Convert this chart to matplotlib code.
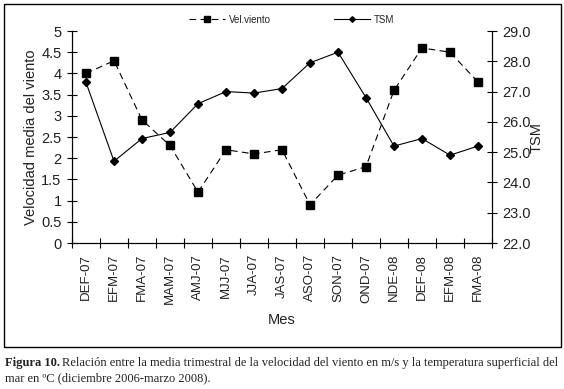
import matplotlib.pyplot as plt
from matplotlib.patches import Rectangle

# Data
meses = ["DEF-07", "EFM-07", "FMA-07", "MAM-07", "AMJ-07", "MJJ-07", "JJA-07", "JAS-07",
         "ASO-07", "SON-07", "OND-07", "NDE-08", "DEF-08", "EFM-08", "FMA-08"]
vel_viento = [4.0, 4.3, 2.9, 2.3, 1.2, 2.2, 2.1, 2.2, 0.9, 1.6, 1.8, 3.6, 4.6, 4.5, 3.8]
tsm = [27.3, 24.7, 25.45, 25.65, 26.6, 27.0, 26.95, 27.1, 27.95, 28.3, 26.8, 25.2, 25.45, 24.9, 25.2]

vel_ticks = [0, 0.5, 1, 1.5, 2, 2.5, 3, 3.5, 4, 4.5, 5]
vel_tick_labels = ["0", "0.5", "1", "1.5", "2", "2.5", "3", "3.5", "4", "4.5", "5"]
tsm_ticks = [22, 23, 24, 25, 26, 27, 28, 29]

plt.rcParams["font.family"] = ["Liberation Sans", "DejaVu Sans"]
txt = "#222222"

fig = plt.figure(figsize=(5.64, 3.89), dpi=100)
ax = fig.add_axes([0.1277, 0.3753, 0.7446, 0.545])
ax2 = ax.twinx()

x = list(range(len(meses)))
l1, = ax.plot(x, vel_viento, color="black", lw=0.8, ls=(0, (6, 4)), marker="s",
              markersize=6, label="Vel.viento")
l2, = ax2.plot(x, tsm, color="black", lw=0.8, marker="D", markersize=3.8, label="TSM")

ax.set_xlim(-0.5, len(meses) - 0.5)
ax.set_ylim(0, 5)
ax2.set_ylim(22, 29)
ax.set_yticks(vel_ticks)
ax.set_yticklabels(vel_tick_labels)
ax2.set_yticks(tsm_ticks)
ax2.set_yticklabels([f"{t:.1f}" for t in tsm_ticks])

ax.set_xticks([i - 0.5 for i in range(len(meses) + 1)])
ax.set_xticklabels([])
ax.set_xticks(x, minor=True)
ax.set_xticklabels(meses, minor=True, rotation=90, fontsize=9.5, color=txt)
ax.tick_params(axis="x", which="major", direction="inout", length=7, width=0.8)
ax.tick_params(axis="x", which="minor", length=0, pad=8)
ax.tick_params(axis="y", direction="inout", length=7, width=0.8, labelsize=10.5,
               labelcolor=txt, pad=4)
ax2.tick_params(axis="y", direction="inout", length=7, width=0.8, labelsize=10.5,
                labelcolor=txt, pad=4)

for a in (ax, ax2):
    a.spines["top"].set_visible(False)
    for s in ("left", "right", "bottom"):
        a.spines[s].set_linewidth(0.8)

ax.set_ylabel("Velocidad media del viento", fontsize=10.5, color=txt, labelpad=2)
ax2.set_ylabel("TSM", fontsize=10.5, color=txt, labelpad=-1)
ax.set_xlabel("Mes", fontsize=10.5, color=txt, labelpad=6)

fig.legend(handles=[l1, l2], loc="upper center", bbox_to_anchor=(0.517, 0.985), ncol=2,
           frameon=False, fontsize=7, handlelength=3.7, handletextpad=0.4,
           columnspacing=6.5, markerscale=0.75, labelcolor=txt)

# Outer frame
fig.patches.append(Rectangle((4 / 564, 1 - 347 / 389), 557 / 564, 343 / 389,
                             transform=fig.transFigure, fill=False, lw=1.0, ec="black"))

# Caption
serif = ["Liberation Serif", "DejaVu Serif"]
t1 = fig.text(5 / 564, 1 - 366 / 389, "Figura 10.", family=serif, weight="bold",
              fontsize=9, va="baseline", color=txt)
fig.canvas.draw()
bb = t1.get_window_extent()
fig.text(bb.x1 / fig.bbox.width + 0.004, 1 - 366 / 389,
         "Relación entre la media trimestral de la velocidad del viento en m/s y la temperatura superficial del",
         family=serif, fontsize=9, va="baseline", color=txt)
fig.text(5 / 564, 1 - 381 / 389, "mar en ºC (diciembre 2006-marzo 2008).", family=serif,
         fontsize=9, va="baseline", color=txt)

fig.savefig("out.png", dpi=100)
